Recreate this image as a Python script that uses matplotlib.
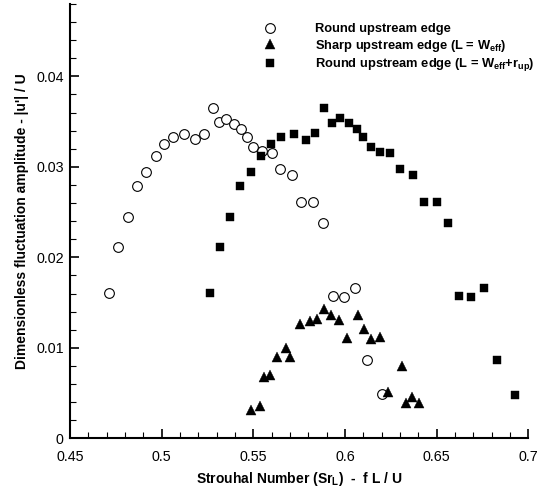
import numpy as np
import matplotlib
matplotlib.use('Agg')
import matplotlib.pyplot as plt
from matplotlib.ticker import MultipleLocator, FuncFormatter

# Round upstream edge, L = W_eff
round_sr = [0.4713, 0.4763, 0.4814, 0.4864, 0.4916, 0.4967, 0.5014, 0.5063, 0.5123, 0.5183,
            0.5230, 0.5279, 0.5314, 0.5352, 0.5395, 0.5432, 0.5465, 0.5499, 0.5548, 0.5599,
            0.5645, 0.5708, 0.5759, 0.5824, 0.5877, 0.5932, 0.5992, 0.6055, 0.6119, 0.6204]
round_amp = [0.01606, 0.02117, 0.02449, 0.02791, 0.02943, 0.03123, 0.03249, 0.03333, 0.03362, 0.03304,
             0.03362, 0.03650, 0.03492, 0.03528, 0.03476, 0.03414, 0.03326, 0.03222, 0.03178, 0.03156,
             0.02979, 0.02913, 0.02608, 0.02611, 0.02379, 0.01569, 0.01565, 0.01664, 0.00865, 0.00486]

# Sharp upstream edge
sharp_sr = [0.5488, 0.5537, 0.5559, 0.5592, 0.5627, 0.5677, 0.5701, 0.5755, 0.5810, 0.5845,
            0.5883, 0.5921, 0.5966, 0.6013, 0.6068, 0.6101, 0.6139, 0.6190, 0.6235, 0.6313,
            0.6333, 0.6366, 0.6402]
sharp_amp = [0.00313, 0.00357, 0.00681, 0.00696, 0.00895, 0.01001, 0.00895, 0.01260, 0.01299, 0.01315,
             0.01425, 0.01366, 0.01311, 0.01105, 0.01362, 0.01204, 0.01094, 0.01116, 0.00508, 0.00796,
             0.00393, 0.00460, 0.00393]

# Round upstream edge, L = W_eff + r_up
round_rup_sr = [0.5263, 0.5318, 0.5372, 0.5427, 0.5485, 0.5539, 0.5594, 0.5648, 0.5721, 0.5786,
                0.5834, 0.5886, 0.5928, 0.5972, 0.6021, 0.6065, 0.6097, 0.6139, 0.6190, 0.6246,
                0.6297, 0.6369, 0.6429, 0.6499, 0.6560, 0.6620, 0.6684, 0.6755, 0.6827, 0.6925]
round_rup_amp = [0.01606, 0.02117, 0.02449, 0.02791, 0.02943, 0.03123, 0.03252, 0.03333, 0.03362, 0.03296,
                 0.03370, 0.03653, 0.03487, 0.03536, 0.03481, 0.03414, 0.03329, 0.03222, 0.03167, 0.03156,
                 0.02979, 0.02913, 0.02608, 0.02614, 0.02382, 0.01572, 0.01565, 0.01664, 0.00869, 0.00482]

labels = ['Round upstream edge',
          r'Sharp upstream edge (L = W$_{eff}$)',
          r'Round upstream edge (L = W$_{eff}$+r$_{up}$)']

plt.rcParams['font.family'] = ['Liberation Sans', 'DejaVu Sans']
plt.rcParams['mathtext.fontset'] = 'custom'
plt.rcParams['mathtext.rm'] = 'Liberation Sans:bold'
plt.rcParams['mathtext.it'] = 'Liberation Sans:bold'
plt.rcParams['mathtext.bf'] = 'Liberation Sans:bold'
plt.rcParams['mathtext.default'] = 'bf'

fig = plt.figure(figsize=(5.58, 4.88), dpi=100)
ax = fig.add_axes([0.1254, 0.1018, 0.8217, 0.890])

ax.plot(round_sr, round_amp, 'o', ms=7, mfc='white', mec='black', mew=0.8, label=labels[0])
ax.plot(sharp_sr, sharp_amp, '^', ms=6.5, color='black', mew=0.3, label=labels[1])
ax.plot(round_rup_sr, round_rup_amp, 's', ms=5.3, color='black', mew=0.3, label=labels[2])

ax.set_xlim(0.45, 0.7)
ax.set_ylim(0, 0.048)
ax.xaxis.set_major_locator(MultipleLocator(0.05))
ax.xaxis.set_minor_locator(MultipleLocator(0.01))
ax.yaxis.set_major_locator(MultipleLocator(0.01))
ax.yaxis.set_minor_locator(MultipleLocator(0.002))
ax.xaxis.set_major_formatter(FuncFormatter(lambda v, p: '%g' % round(v, 3)))
ax.yaxis.set_major_formatter(FuncFormatter(lambda v, p: '0' if abs(v) < 1e-9 else '%g' % round(v, 3)))

for side in ['top', 'right']:
    ax.spines[side].set_visible(False)
for side in ['left', 'bottom']:
    ax.spines[side].set_linewidth(1.5)

ax.tick_params(which='major', direction='in', length=6.5, width=1.2, labelsize=10.3)
ax.tick_params(which='minor', direction='in', length=4, width=0.8)
ax.tick_params(axis='x', which='major', pad=8.5)
ax.tick_params(axis='y', which='major', pad=4.5)

ax.set_xlabel(r'Strouhal Number (Sr$_{L}$)  -  f L / U', fontsize=10, fontweight='bold', labelpad=4)
ax.set_ylabel("Dimensionless fluctuation amplitude - |u'| / U", fontsize=10, fontweight='bold')
ax.yaxis.set_label_coords(-0.0894, 0.5)

ax.legend(loc='upper left', bbox_to_anchor=(0.41, 0.968), frameon=False,
          prop={'weight': 'bold', 'size': 9.3}, handlelength=1, handletextpad=3.0,
          labelspacing=0.2, borderaxespad=0)

fig.savefig('out.png', dpi=100)
